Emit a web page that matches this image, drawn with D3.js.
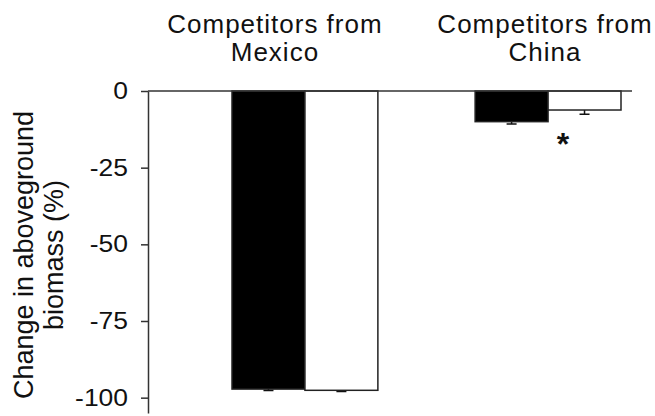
<!DOCTYPE html>
<html>
<head>
<meta charset="utf-8">
<script src="https://cdn.jsdelivr.net/npm/d3@7"></script>
<style>
  body { margin: 0; background: #fff; }
  svg { display: block; font-family: "Liberation Sans", Arial, sans-serif; }
</style>
</head>
<body>
<svg id="chart"></svg>
<script>
// Data
const groups = ["Mexico", "China"];
const groupTitles = [["Competitors from", "Mexico"], ["Competitors from", "China"]];
const series = ["black", "white"];
const meanValues = [[-97.2, -97.6], [-10.0, -6.2]];
const errValues = [[0.5, 0.4], [0.8, 1.4]];
const yTicks = [0, -25, -50, -75, -100];
const significant = [false, true];

const width = 655, height = 416;
const svg = d3.select("#chart").attr("width", width).attr("height", height);

// scales
const y = d3.scaleLinear().domain([0, -105]).range([91, 413]);
const x0 = d3.scaleBand().domain(groups).range([232, 621]).paddingInner(0.4);
const x1 = d3.scaleBand().domain(series).range([0, x0.bandwidth()]);
const fill = d3.scaleOrdinal().domain(series).range(["#000", "#fff"]);
const axisX = 148, axisRight = 632;

// bars
const g = svg.selectAll(".grp")
  .data(groups)
  .enter().append("g")
  .attr("class", "grp")
  .attr("transform", d => `translate(${x0(d)},0)`);

g.each(function(grp, gi) {
  const sel = d3.select(this);
  const rows = series.map((s, si) => ({ s: s, v: meanValues[gi][si], e: errValues[gi][si] }));

  // error bars (downward only)
  sel.selectAll(".err")
    .data(rows)
    .enter().append("path")
    .attr("class", "err")
    .attr("d", d => {
      const cx = x1(d.s) + x1.bandwidth() / 2;
      const y1 = y(d.v), y2 = y(d.v - d.e);
      return `M${cx},${y1}V${y2}M${cx - 5},${y2}H${cx + 5}`;
    })
    .attr("stroke", "#111")
    .attr("stroke-width", 1.5)
    .attr("fill", "none");

  sel.selectAll("rect")
    .data(rows)
    .enter().append("rect")
    .attr("x", d => x1(d.s))
    .attr("y", y(0))
    .attr("width", x1.bandwidth())
    .attr("height", d => y(d.v) - y(0))
    .attr("fill", d => fill(d.s))
    .attr("stroke", "#222")
    .attr("stroke-width", 1.5);
});

// zero line
svg.append("line")
  .attr("x1", axisX).attr("x2", axisRight)
  .attr("y1", y(0)).attr("y2", y(0))
  .attr("stroke", "#333")
  .attr("stroke-width", 1.5);

// y axis
const yAxis = svg.append("g")
  .attr("transform", `translate(${axisX},0)`)
  .call(d3.axisLeft(y).tickValues(yTicks).tickFormat(d => String(d))
    .tickSizeInner(7).tickSizeOuter(0).tickPadding(13));

yAxis.select(".domain").attr("stroke", "#333").attr("stroke-width", 1.5);
yAxis.selectAll(".tick line").attr("stroke", "#333").attr("stroke-width", 1.5);
yAxis.selectAll(".tick text")
  .attr("font-family", "Liberation Sans, Arial, sans-serif")
  .attr("font-size", 23)
  .attr("fill", "#111")
  .attr("x", -20 / 1.15)
  .attr("transform", "scale(1.15,1)");

// y label
const yl = svg.append("text")
  .attr("transform", "translate(0,255) rotate(-90)")
  .attr("text-anchor", "middle")
  .attr("font-size", 27)
  .attr("fill", "#111");
yl.append("tspan").attr("x", 0).attr("y", 33).text("Change in aboveground");
yl.append("tspan").attr("x", 0).attr("y", 63).text("biomass (%)");

// group titles
const titleShift = [-30, -3];
groups.forEach((grp, i) => {
  const cx = x0(grp) + x0.bandwidth() / 2 + titleShift[i];
  groupTitles[i].forEach((line, li) => {
    svg.append("text")
      .attr("x", cx)
      .attr("y", 33 + li * 28)
      .attr("text-anchor", "middle")
      .attr("font-size", 26)
      .attr("letter-spacing", 1)
      .attr("fill", "#111")
      .text(line);
  });
});

// significance mark
groups.forEach((grp, i) => {
  if (!significant[i]) return;
  svg.append("text")
    .attr("x", x0(grp) + x0.bandwidth() / 2 + 15)
    .attr("y", 155)
    .attr("text-anchor", "middle")
    .attr("font-size", 32)
    .attr("font-weight", "bold")
    .attr("fill", "#111")
    .text("*");
});
</script>
</body>
</html>
